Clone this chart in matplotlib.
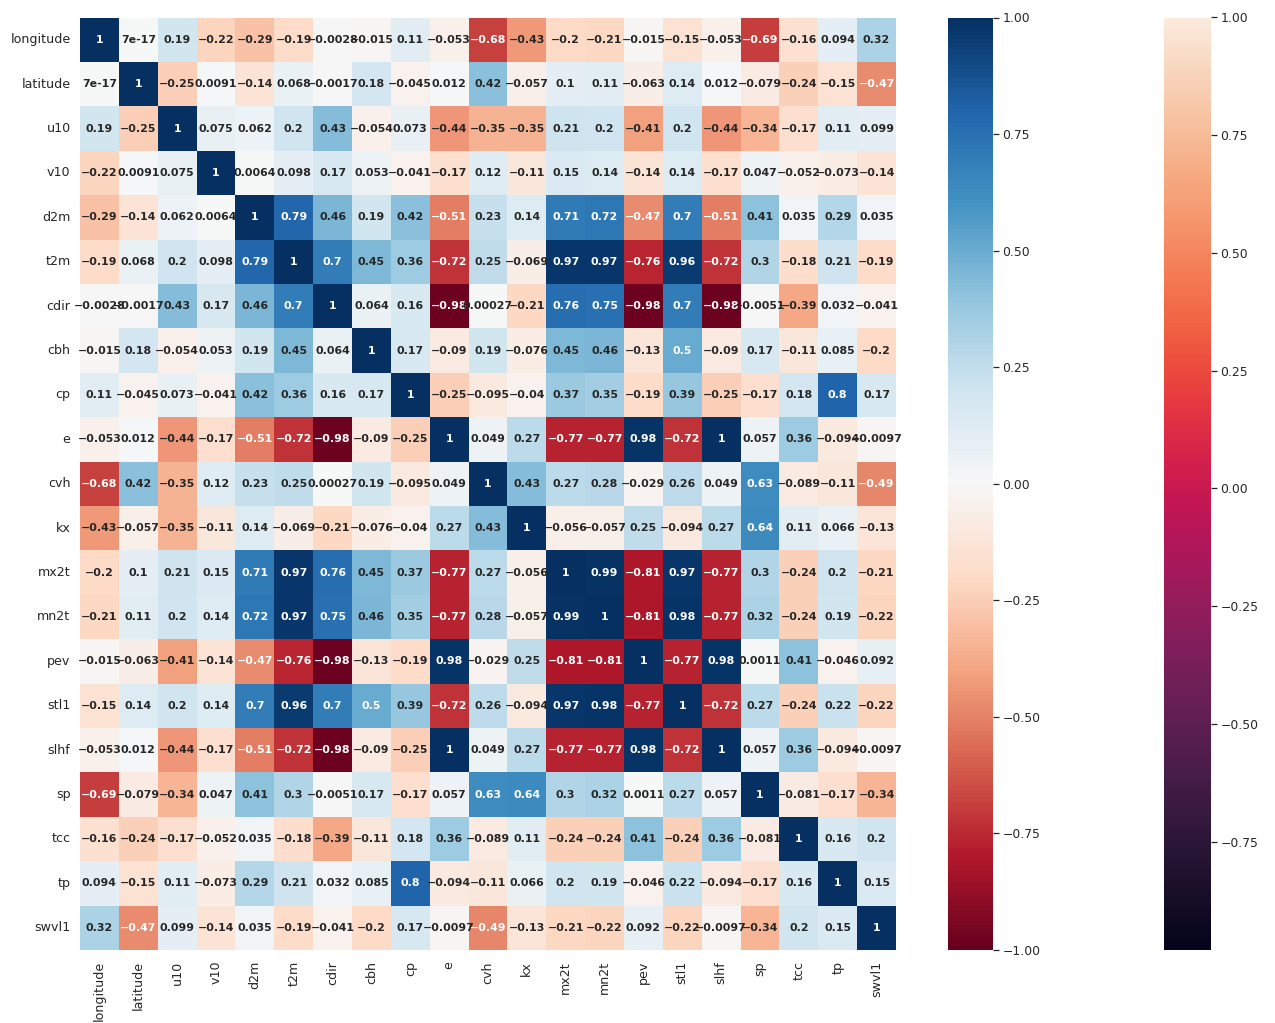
import numpy as np
import pandas as pd
import matplotlib
matplotlib.use("Agg")
import matplotlib.pyplot as plt
import seaborn as sns

variables = ["longitude", "latitude", "u10", "v10", "d2m", "t2m", "cdir", "cbh",
             "cp", "e", "cvh", "kx", "mx2t", "mn2t", "pev", "stl1", "slhf",
             "sp", "tcc", "tp", "swvl1"]

# pairwise Pearson correlations, one row per variable (same order as above)
corr_values = [
    [1, 7e-17, 0.19, -0.22, -0.29, -0.19, -0.0028, -0.015, 0.11, -0.053, -0.68, -0.43, -0.2, -0.21, -0.015, -0.15, -0.053, -0.69, -0.16, 0.094, 0.32],
    [7e-17, 1, -0.25, 0.0091, -0.14, 0.068, -0.0017, 0.18, -0.045, 0.012, 0.42, -0.057, 0.1, 0.11, -0.063, 0.14, 0.012, -0.079, -0.24, -0.15, -0.47],
    [0.19, -0.25, 1, 0.075, 0.062, 0.2, 0.43, -0.054, 0.073, -0.44, -0.35, -0.35, 0.21, 0.2, -0.41, 0.2, -0.44, -0.34, -0.17, 0.11, 0.099],
    [-0.22, 0.0091, 0.075, 1, 0.0064, 0.098, 0.17, 0.053, -0.041, -0.17, 0.12, -0.11, 0.15, 0.14, -0.14, 0.14, -0.17, 0.047, -0.052, -0.073, -0.14],
    [-0.29, -0.14, 0.062, 0.0064, 1, 0.79, 0.46, 0.19, 0.42, -0.51, 0.23, 0.14, 0.71, 0.72, -0.47, 0.7, -0.51, 0.41, 0.035, 0.29, 0.035],
    [-0.19, 0.068, 0.2, 0.098, 0.79, 1, 0.7, 0.45, 0.36, -0.72, 0.25, -0.069, 0.97, 0.97, -0.76, 0.96, -0.72, 0.3, -0.18, 0.21, -0.19],
    [-0.0028, -0.0017, 0.43, 0.17, 0.46, 0.7, 1, 0.064, 0.16, -0.98, 0.00027, -0.21, 0.76, 0.75, -0.98, 0.7, -0.98, -0.0051, -0.39, 0.032, -0.041],
    [-0.015, 0.18, -0.054, 0.053, 0.19, 0.45, 0.064, 1, 0.17, -0.09, 0.19, -0.076, 0.45, 0.46, -0.13, 0.5, -0.09, 0.17, -0.11, 0.085, -0.2],
    [0.11, -0.045, 0.073, -0.041, 0.42, 0.36, 0.16, 0.17, 1, -0.25, -0.095, -0.04, 0.37, 0.35, -0.19, 0.39, -0.25, -0.17, 0.18, 0.8, 0.17],
    [-0.053, 0.012, -0.44, -0.17, -0.51, -0.72, -0.98, -0.09, -0.25, 1, 0.049, 0.27, -0.77, -0.77, 0.98, -0.72, 1, 0.057, 0.36, -0.094, -0.0097],
    [-0.68, 0.42, -0.35, 0.12, 0.23, 0.25, 0.00027, 0.19, -0.095, 0.049, 1, 0.43, 0.27, 0.28, -0.029, 0.26, 0.049, 0.63, -0.089, -0.11, -0.49],
    [-0.43, -0.057, -0.35, -0.11, 0.14, -0.069, -0.21, -0.076, -0.04, 0.27, 0.43, 1, -0.056, -0.057, 0.25, -0.094, 0.27, 0.64, 0.11, 0.066, -0.13],
    [-0.2, 0.1, 0.21, 0.15, 0.71, 0.97, 0.76, 0.45, 0.37, -0.77, 0.27, -0.056, 1, 0.99, -0.81, 0.97, -0.77, 0.3, -0.24, 0.2, -0.21],
    [-0.21, 0.11, 0.2, 0.14, 0.72, 0.97, 0.75, 0.46, 0.35, -0.77, 0.28, -0.057, 0.99, 1, -0.81, 0.98, -0.77, 0.32, -0.24, 0.19, -0.22],
    [-0.015, -0.063, -0.41, -0.14, -0.47, -0.76, -0.98, -0.13, -0.19, 0.98, -0.029, 0.25, -0.81, -0.81, 1, -0.77, 0.98, 0.0011, 0.41, -0.046, 0.092],
    [-0.15, 0.14, 0.2, 0.14, 0.7, 0.96, 0.7, 0.5, 0.39, -0.72, 0.26, -0.094, 0.97, 0.98, -0.77, 1, -0.72, 0.27, -0.24, 0.22, -0.22],
    [-0.053, 0.012, -0.44, -0.17, -0.51, -0.72, -0.98, -0.09, -0.25, 1, 0.049, 0.27, -0.77, -0.77, 0.98, -0.72, 1, 0.057, 0.36, -0.094, -0.0097],
    [-0.69, -0.079, -0.34, 0.047, 0.41, 0.3, -0.0051, 0.17, -0.17, 0.057, 0.63, 0.64, 0.3, 0.32, 0.0011, 0.27, 0.057, 1, -0.081, -0.17, -0.34],
    [-0.16, -0.24, -0.17, -0.052, 0.035, -0.18, -0.39, -0.11, 0.18, 0.36, -0.089, 0.11, -0.24, -0.24, 0.41, -0.24, 0.36, -0.081, 1, 0.16, 0.2],
    [0.094, -0.15, 0.11, -0.073, 0.29, 0.21, 0.032, 0.085, 0.8, -0.094, -0.11, 0.066, 0.2, 0.19, -0.046, 0.22, -0.094, -0.17, 0.16, 1, 0.15],
    [0.32, -0.47, 0.099, -0.14, 0.035, -0.19, -0.041, -0.2, 0.17, -0.0097, -0.49, -0.13, -0.21, -0.22, 0.092, -0.22, -0.0097, -0.34, 0.2, 0.15, 1],
]

corr = pd.DataFrame(np.array(corr_values), index=variables, columns=variables)


def fmt_cell(v):
    s = format(v, ".2g")
    # leading sign as a proper minus, exponent sign left alone
    return "\u2212" + s[1:] if s.startswith("-") else s


annot_text = np.vectorize(fmt_cell)(corr.values)

sns.set_theme()
plt.rcParams["font.family"] = ["DejaVu Sans"]

W, H = 1275, 1023
fig = plt.figure(figsize=(W / 72, H / 72), dpi=72)


def px_axes(x0, y0, x1, y1):
    return fig.add_axes([x0 / W, 1 - y1 / H, (x1 - x0) / W, (y1 - y0) / H])


ax = px_axes(80, 17.5, 896, 950)
cax_rdbu = px_axes(948, 17.5, 993, 950)
cax_default = px_axes(1164, 17.5, 1211, 950)

# first pass with the default palette, then the annotated diverging map on top
sns.heatmap(corr, ax=ax, cbar_ax=cax_default)
sns.heatmap(corr, ax=ax, cbar_ax=cax_rdbu, annot=annot_text, fmt="", cmap="RdBu",
            vmin=-1, vmax=1, annot_kws={"weight": "bold", "size": 11})

ax.set_xticks(np.arange(len(variables)) + 0.5)
ax.set_xticklabels(variables, rotation=90, fontsize=12.6)
ax.set_yticks(np.arange(len(variables)) + 0.5)
ax.set_yticklabels(variables, rotation=0, fontsize=12.6)
ax.tick_params(axis="x", pad=5)
for cax in (cax_rdbu, cax_default):
    cax.tick_params(labelsize=12.4)

fig.savefig("out.png", dpi=72)
